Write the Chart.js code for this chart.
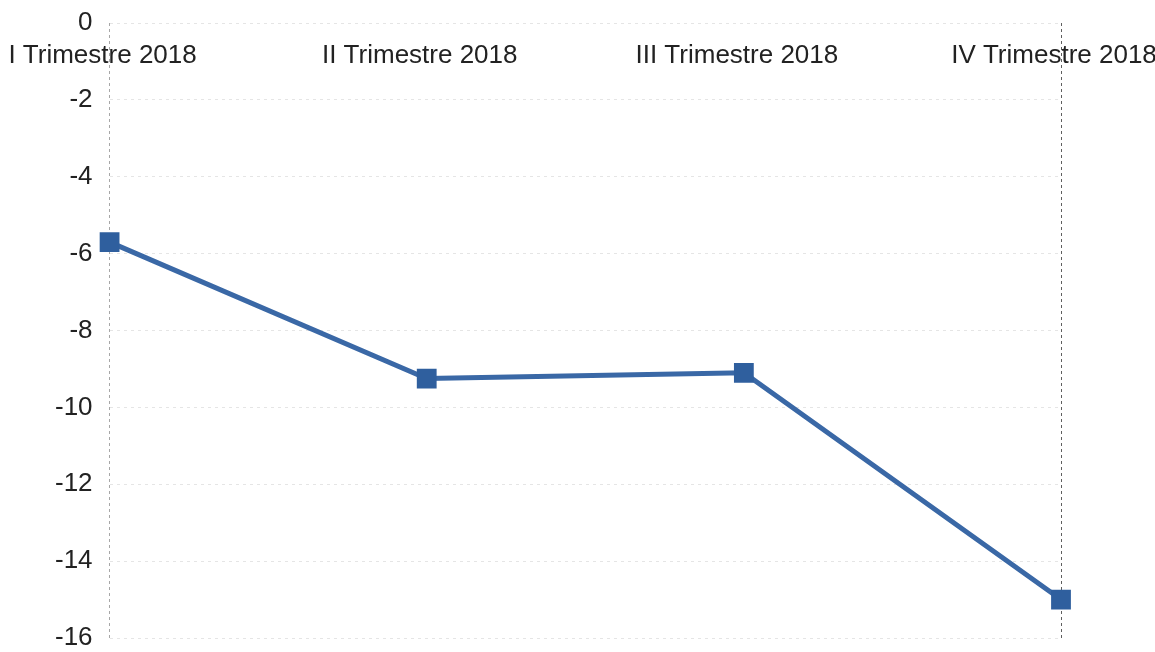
<!DOCTYPE html>
<html>
<head>
    <title>Trimestre 2018</title>
    <script src="https://cdn.jsdelivr.net/npm/chart.js"></script>
    <style>
        body {margin: 0; background: #fff;}
        #wrap {width: 1155px; height: 652px; position: relative;}
    </style>
</head>
<body>
    <div id="wrap">
        <canvas id="myChart"></canvas>
    </div>
    <script>
        var trimestri = ['I Trimestre 2018', 'II Trimestre 2018', 'III Trimestre 2018', 'IV Trimestre 2018'];
        var valori = [-5.7, -9.25, -9.1, -15.0];
        var yMin = -16;
        var yMax = 0;
        var yStep = 2;

        var ctx = document.getElementById('myChart').getContext('2d');
        new Chart(ctx, {
            type: 'line',
            data: {
                labels: trimestri,
                datasets: [{
                    label: 'Serie',
                    data: valori,
                    borderColor: '#3a68a6',
                    backgroundColor: '#2f5f9e',
                    borderWidth: 5,
                    pointStyle: 'rect',
                    pointRadius: 14,
                    pointHoverRadius: 14,
                    pointBorderWidth: 0,
                    tension: 0
                }]
            },
            options: {
                responsive: true,
                maintainAspectRatio: false,
                animation: false,
                layout: {
                    padding: {top: 23, bottom: -36, left: 55, right: 94}
                },
                plugins: {
                    legend: {display: false},
                    tooltip: {enabled: false}
                },
                scales: {
                    x: {
                        // labels hang just under the zero line
                        position: {y: 0},
                        offset: false,
                        border: {display: false, dash: [3, 3]},
                        grid: {
                            drawTicks: true,
                            tickLength: 26,
                            tickColor: 'rgba(0,0,0,0)',
                            color: function(c) {
                                if (c.index === 0) return 'rgba(60,60,60,0.45)';
                                if (c.index === trimestri.length - 1) return 'rgba(40,40,40,0.75)';
                                return 'rgba(0,0,0,0)';
                            },
                            lineWidth: 1
                        },
                        ticks: {
                            padding: -9,
                            labelOffset: -7,
                            color: '#222',
                            maxRotation: 0,
                            font: {family: 'Liberation Sans', size: 26}
                        }
                    },
                    y: {
                        min: yMin,
                        max: yMax,
                        border: {display: false, dash: [3, 4]},
                        grid: {
                            drawTicks: true,
                            tickLength: 17,
                            tickColor: 'rgba(0,0,0,0)',
                            color: 'rgba(0,0,0,0.10)',
                            lineWidth: 1
                        },
                        ticks: {
                            stepSize: yStep,
                            padding: 0,
                            color: '#222',
                            font: {family: 'Liberation Sans', size: 26, lineHeight: 1}
                        }
                    }
                }
            }
        });
    </script>
</body>
</html>
